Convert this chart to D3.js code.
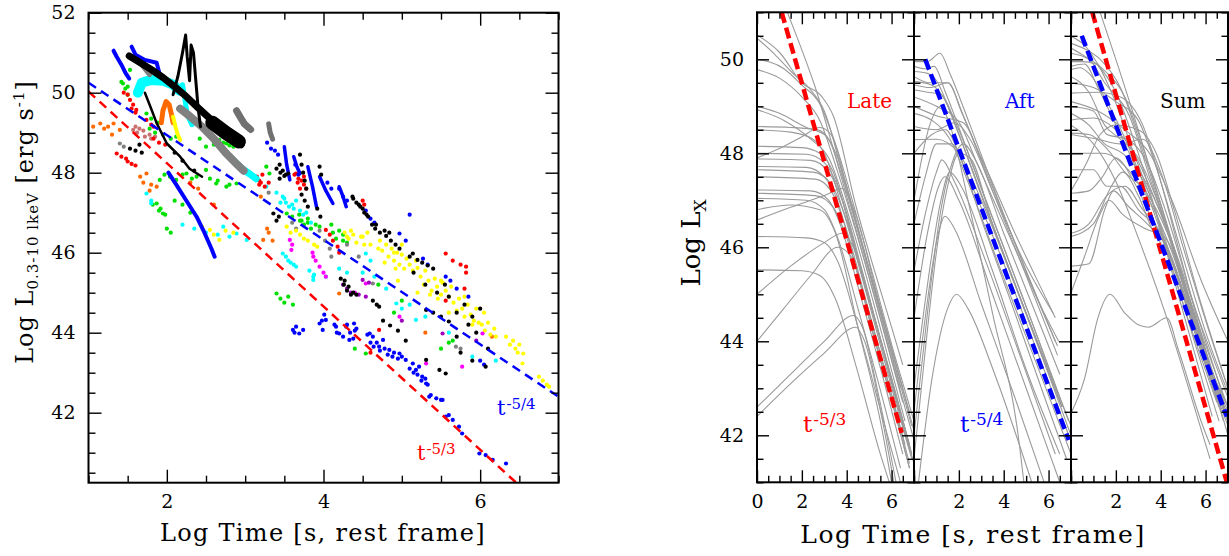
<!DOCTYPE html>
<meta charset="utf-8">
<script src="https://d3js.org/d3.v7.min.js"></script>
<style>
body { margin: 0; background: #fff; }
text { font-family: "DejaVu Serif", serif; fill: #000; }
</style>
<div id="chart"></div>
<script>
// ---------- left panel: light curves (log t, log L) ----------
// dense streaks
const blueTrackA  = [[1.32,51.05],[1.36,50.9],[1.42,50.7],[1.47,50.5],[1.52,50.35]];
const blueTrackB  = [[1.55,51.15],[1.6,50.95],[1.72,50.82],[1.87,50.75],[1.91,50.45]];
const blueDiag    = [[2.02,48.0],[2.12,47.7],[2.25,47.3],[2.38,46.9],[2.48,46.5],[2.57,46.1],[2.61,45.9]];
const blackMain   = [[1.52,50.92],[1.62,50.8],[1.8,50.58],[1.95,50.38],[2.1,50.15],[2.25,49.9],[2.4,49.62],[2.55,49.35],[2.7,49.05],[2.85,48.85],[2.95,48.7]];
const blackBlob   = [[2.58,49.25],[2.75,49.0],[2.92,48.78]];
const blackSpike  = [[2.08,49.95],[2.14,50.4],[2.2,51.0],[2.24,51.44],[2.26,50.9],[2.29,50.3],[2.31,51.19],[2.34,51.0],[2.37,50.3],[2.4,49.6],[2.43,49.15]];
const blackLeft   = [[1.72,50.0],[1.8,49.6],[1.87,49.24],[2.0,48.73],[2.17,48.4],[2.29,48.1],[2.45,47.9]];
const grayMain    = [[2.17,49.6],[2.3,49.4],[2.45,49.15],[2.6,48.85],[2.75,48.5],[2.9,48.2],[2.98,48.05]];
const grayTop     = [[1.66,50.75],[1.72,50.6],[1.78,50.45]];
const grayClusA   = [[2.89,49.55],[2.94,49.38],[2.99,49.22],[3.07,49.08]];
const grayClusB   = [[3.3,49.22],[3.32,49.0],[3.35,48.84]];
const cyanTop     = [[1.63,50.0],[1.68,50.25],[1.8,50.32],[1.95,50.3],[2.08,50.2],[2.16,50.05]];
const cyanMid     = [[2.2,50.2],[2.23,49.85],[2.26,49.45],[2.32,49.2]];
const cyanLow     = [[2.8,48.4],[2.88,48.25],[2.96,48.1],[3.05,47.98],[3.14,47.85]];
const orangeArc   = [[1.93,49.25],[1.95,49.55],[1.99,49.78],[2.03,49.7],[2.06,49.45],[2.08,49.25]];
const yellowTop   = [[2.08,49.4],[2.11,49.15],[2.14,48.95],[2.17,48.82]];
const blueStreaks = [[[3.62,48.4],[3.66,48.15],[3.7,47.98]],[[3.8,48.15],[3.86,47.65],[3.91,47.15]],
  [[3.5,48.65],[3.53,48.2],[3.57,47.82]],[[3.95,47.9],[4.03,47.55],[4.12,47.23]],[[4.2,47.65],[4.25,47.4],[4.29,47.15]]];

// scattered points
const bluePts = [[3.28,48.75],[3.33,48.6],[3.38,48.55],[3.42,48.45],[3.64,48.2],[3.68,47.95],[4.05,47.75],[4.1,47.6],[4.2,47.6],[4.25,47.4],[4.3,47.3],
  [4.54,47.05],[4.6,46.85],[4.65,46.75],[4.97,46.48],[5.1,46.95],[5.05,46.3],[5.27,45.85],[5.33,45.7],[5.56,45.4],[5.62,45.3],[5.7,45.1],[5.85,44.9],[6.0,43.3],[6.05,43.2],
  [3.61,44.07],[3.65,44.15],[3.69,43.98],[3.74,44.07],[3.95,44.23],[3.99,44.07],[4.03,44.32],[4.01,44.45],[4.16,44.15],[4.2,43.98],[4.25,43.9],[4.29,44.15],[4.33,43.82],
  [4.39,44.23],[4.4,44.05],[4.59,43.98],[4.63,43.9],[4.71,43.65],[4.76,43.82],[4.84,43.57],[4.88,43.4],[4.97,43.48],[5.05,43.32],[5.14,43.23],[5.18,43.07],[5.22,43.15],
  [5.26,42.9],[5.31,42.73],[5.35,42.4],[5.44,42.36],[5.5,42.32],[5.56,41.9],[5.65,41.82],[5.73,41.65],[5.77,41.48],[5.99,40.98],[6.07,40.94],[6.16,40.82],[6.33,40.73],
  [4.14,44.2],[4.17,44.0],[4.3,44.2],[4.34,44.0],[4.38,43.85],[4.42,44.1],[4.56,43.95],[4.6,43.75],[4.64,43.65],[4.68,43.75],[4.72,43.55],[4.78,43.6],[4.82,43.45],
  [4.9,43.5],[4.95,43.35],[5.0,43.4],[5.1,43.1],[5.15,43.0],[5.2,42.95],[5.25,42.8],[5.3,42.85],[5.33,42.7],[5.37,42.44],[5.52,42.32],[5.6,41.94],[3.63,44.0],[3.98,44.3]];
const blackPts = [[1.53,48.6],[1.6,48.55],[1.68,48.5],[1.65,48.7],[3.4,48.1],[3.45,48.0],[3.5,47.92],[3.55,47.98],[3.44,47.85],[3.72,47.45],[3.76,47.3],[3.8,47.15],
  [3.78,47.6],[3.95,48.15],[3.97,47.95],[4.37,47.4],[4.42,47.25],[4.47,47.15],[4.52,47.0],[4.57,46.9],[4.62,46.7],[4.66,46.6],[4.72,46.5],[4.8,46.42],[4.86,46.3],
  [4.92,46.2],[4.97,46.1],[5.14,45.98],[5.2,45.82],[5.26,45.75],[5.33,45.68],[5.4,45.6],[3.36,46.98],[3.4,46.8],[3.43,46.9],[4.22,45.35],[4.26,45.2],[4.3,45.05],
  [4.35,44.95],[4.63,44.8],[4.68,44.7],[4.71,44.65],[4.76,44.3],[4.85,44.18],[4.95,44.05],[5.05,43.8],[5.31,44.57],[5.4,44.5],[5.5,44.4],[5.6,44.28],[5.7,43.9],
  [5.48,43.07],[5.56,42.98],[6.07,43.15],[5.31,43.32],[5.8,44.7],[5.9,44.4],[6.0,44.6],[5.55,45.2],
  [3.44,48.2],[3.48,48.05],[3.52,47.95],[3.7,48.45],[3.72,48.2],[3.74,48.0],[3.76,47.8],[3.92,47.1],[3.96,46.9],[4.38,47.35],[4.45,47.2],[4.5,47.1],[4.55,46.95],
  [4.67,46.7],[4.78,46.55],[4.84,46.5],[4.27,45.3],[4.32,45.15],[4.38,45.0],[4.42,44.95],[5.1,45.9],[5.15,45.5],[5.3,45.2],[5.45,45.0],[5.6,44.9],[5.7,44.5],
  [5.85,44.2],[5.95,44.0],[6.1,43.6],[5.75,43.5],[5.9,43.3],[2.1,48.5],[2.2,48.3],[2.35,48.05]];
const grayPts = [[1.4,48.73],[1.45,48.65],[3.95,46.55],[4.02,46.3],[4.08,46.1],[4.1,45.9],[4.63,45.23],[5.69,43.65],[5.75,43.6],[4.3,46.2],[4.45,45.9],[3.3,47.5],[3.6,46.75],[3.65,46.6]];
const cyanPts = [[3.48,45.98],[3.55,45.8],[3.62,45.7],[3.87,45.4],[4.03,45.4],[3.4,47.5],[3.5,47.35],[3.6,47.2],[3.7,47.05],[3.45,47.25],[3.78,47.0],[3.27,47.65],
  [2.72,46.65],[2.89,46.48],[3.02,46.32],[1.74,47.48],[1.8,47.3],[4.54,45.98],[4.6,45.8],[4.93,44.73],[5.0,44.6],[5.18,44.32],[5.9,43.4],[3.87,45.32],[4.2,45.6],[4.3,45.5],[4.8,45.1],
  [3.48,47.4],[3.52,47.25],[3.56,47.15],[3.62,47.1],[3.65,47.3],[3.74,46.95],[3.84,46.75],[3.52,45.9],[3.58,45.75],[3.65,45.65],[3.82,45.55],[3.88,45.45],
  [2.2,46.7],[2.35,46.6],[2.5,46.5],[2.65,46.45],[2.8,46.4],[1.8,47.23],[4.5,45.5],[4.65,45.4],[5.1,44.7],[5.3,44.4],[5.6,44.0],[6.2,43.3]];
const greenPts = [[1.44,50.23],[1.47,50.1],[1.5,49.95],[1.53,50.57],[1.74,49.48],[1.8,49.35],[1.88,49.25],[1.91,47.82],[1.97,47.95],[2.04,47.9],[2.12,47.82],[2.2,47.95],
  [2.25,47.98],[2.32,47.85],[2.38,47.9],[2.5,48.07],[2.67,48.82],[2.72,48.75],[2.76,48.73],[2.85,48.65],[2.5,48.65],[2.63,47.73],[2.76,47.65],[2.89,47.73],[3.27,48.15],
  [3.31,47.98],[3.53,46.98],[3.6,46.9],[3.7,46.8],[3.8,46.75],[3.9,46.7],[3.95,46.65],[4.1,46.7],[4.2,46.55],[4.25,46.45],[1.87,47.23],[1.92,47.1],[1.95,46.98],
  [2.0,46.6],[2.05,46.5],[3.4,44.98],[3.45,44.85],[3.5,44.75],[3.55,44.9],[3.61,44.7],[4.54,43.48],[5.65,43.8],[5.6,43.75],[5.0,44.8],[4.7,45.2],
  [3.69,46.95],[3.72,46.8],[3.75,46.7],[3.8,46.85],[3.84,46.6],[4.12,46.5],[4.16,46.35],[4.25,46.3],[4.3,46.25],[1.78,49.1],[1.85,49.0],[1.95,48.95],
  [2.05,48.85],[2.12,48.9],[2.42,48.85],[2.6,48.7],[2.8,48.68],[2.55,47.85],[2.65,47.8],[2.8,47.7],[1.82,47.2],[1.9,47.05],[1.98,46.95],[2.1,47.3],
  [2.2,47.2],[2.3,47.0],[4.9,44.5],[5.5,43.6],[4.4,43.6],[1.42,50.27],[1.5,50.15]];
const redPts = [[1.36,48.48],[1.42,48.4],[1.48,48.35],[1.5,48.28],[1.55,48.22],[1.6,48.18],[1.53,49.82],[1.57,49.7],[1.61,49.57],[1.45,50.0],[1.74,49.32],[1.8,49.2],
  [1.83,49.15],[3.15,47.9],[3.18,47.8],[3.2,47.75],[3.25,47.65],[3.22,47.95],[3.65,47.98],[3.68,47.85],[3.72,47.8],[3.75,47.7],[3.78,47.6],[4.03,46.57],[4.08,46.45],
  [4.12,46.3],[4.18,46.15],[4.2,46.0],[4.5,47.3],[4.52,47.2],[5.56,45.98],[5.65,45.8],[5.75,45.7],[5.82,45.65],[5.82,45.5],[5.8,45.1],[5.56,44.8],[4.71,44.07],[4.6,43.5],
  [3.63,47.95],[3.67,47.75],[3.7,47.6],[3.75,47.9],[3.06,48.0],[3.12,47.85],[3.18,47.7],[3.3,47.75],[1.83,48.85],[1.9,48.75],[1.98,48.7],[1.5,49.95],[1.55,49.6],[1.6,49.5]];
const yellowPts = [[3.53,46.65],[3.58,46.5],[3.65,46.55],[3.7,46.45],[3.75,46.35],[3.8,46.3],[3.88,46.2],[3.92,46.15],[4.3,46.4],[4.35,46.55],[4.5,46.4],[4.6,46.2],
  [4.7,46.1],[4.9,46.0],[5.0,45.95],[4.95,45.3],[5.2,45.0],[5.3,45.55],[5.5,45.3],[5.6,44.5],[5.8,44.9],[5.9,44.2],[6.05,44.5],[6.2,43.9],[6.33,43.9],[6.38,43.7],
  [6.42,43.8],[6.45,43.6],[6.5,43.7],[6.55,43.48],[6.48,43.5],[6.54,43.23],[6.75,42.9],[6.8,42.8],[6.85,42.7],[6.88,42.65],[2.55,46.57],[2.6,46.45],[2.67,46.32],
  [4.27,46.5],[4.32,46.35],[4.38,46.45],[4.42,46.25],[4.48,46.4],[4.52,46.2],[4.56,46.5],[4.72,46.3],[4.75,46.05],[4.8,46.2],[4.83,45.9],[4.87,46.1],[4.9,45.8],
  [4.94,46.0],[4.97,45.7],[5.03,45.6],[5.06,45.85],[5.1,45.7],[5.14,45.55],[5.18,45.8],[5.2,45.62],[4.78,45.75],[4.92,45.6],[5.0,46.2],[5.24,45.4],[5.28,45.2],
  [5.34,45.3],[5.38,45.05],[5.42,45.35],[5.45,45.15],[5.5,44.95],[5.52,45.25],[5.56,45.05],[5.6,44.9],[5.63,45.15],[5.36,44.95],[5.46,44.85],[5.66,44.75],[5.7,44.55],
  [5.73,44.85],[5.77,44.6],[5.8,44.4],[5.84,44.7],[5.88,44.45],[5.92,44.3],[5.95,44.6],[5.98,44.25],[6.02,44.2],[6.06,44.05],[6.1,44.25],[6.13,43.95],[6.18,44.1],
  [2.45,46.65],[2.75,46.55],[2.85,46.5]];
const orangePts = [[1.06,49.15],[1.15,49.23],[1.2,49.1],[1.25,49.15],[1.32,49.23],[1.4,49.07],[1.3,48.95],[1.66,47.9],[1.7,47.75],[1.74,47.98],[1.8,47.7],[1.87,47.65],
  [1.78,47.55],[3.23,46.32],[3.3,46.5],[3.35,46.3],[3.28,46.6],[4.2,44.98],[5.3,44.0],[6.15,43.9],[3.2,47.4],[2.6,47.2],[2.3,47.75],[2.4,47.6]];
const magentaPts = [[3.57,46.32],[3.59,46.07],[3.87,45.9],[3.95,45.65],[4.03,45.4],[4.54,45.23],[4.97,44.4],[5.31,43.23],[5.77,43.15],[6.03,43.98],[4.4,45.0],
  [3.6,46.2],[3.86,46.0],[3.9,45.8],[4.0,45.5]];
const purplePts = [[4.5,45.32],[4.58,45.25],[5.52,43.98],[4.3,45.1],[5.0,44.3],[5.95,43.8],[4.25,45.2],[4.35,45.0],[4.45,44.95],[4.54,44.9]];
const rosyPts = [[1.57,49.07],[1.62,49.0],[1.65,49.1],[1.72,48.9],[1.78,48.95],[1.8,48.85],[1.85,48.9],[1.6,49.15],[1.7,49.05]];

// power-law guides
const fitBlueL = [[1,50.25],[7,42.4]];
const fitRedL  = [[1,50.03],[6.46,40.25]];

// ---------- right panels: model curves ----------
const lateCurves = [
  [[1.35,51],[2.0,50.2],[2.6,49.4],[3.4,48.1],[4.4,46.4],[5.6,44.3],[6.5,42.7]],
  [[0,50.52],[1,50.15],[2,49.5],[2.9,49.2],[3.4,48.8],[4.4,46.9],[6,44.3],[6.5,43.5]],
  [[0,50.45],[0.8,50.1],[1.6,49.7],[2.3,49.4],[3.0,48.9],[4.0,47.2],[5.5,44.6],[6.9,42.2]],
  [[0,50.0],[1.2,49.8],[2.0,49.45],[2.8,49.05],[3.5,48.2],[4.6,46.4],[6.2,43.6],[7,42.3]],
  [[0,49.78],[1.0,49.6],[2.0,49.2],[2.8,48.7],[3.6,47.6],[4.8,45.7],[6.3,43.1],[7,41.9]],
  [[0,49.0],[1.0,48.85],[2.2,48.55],[3.0,48.4],[3.6,47.9],[4.6,46.2],[6.2,43.5],[6.8,42.5]],
  [[0,48.93],[1.2,48.7],[2.4,48.3],[3.2,47.9],[4.2,46.5],[5.6,44.1],[6.6,42.3]],
  [[0,48.57],[1.5,48.55],[2.7,48.5],[3.2,48.3],[3.8,47.5],[5.0,45.5],[6.4,43.0]],
  [[0,48.5],[1.5,48.45],[2.5,48.3],[3.0,48.0],[3.7,47.0],[5.0,44.8],[6.3,42.5],[6.9,41.5]],
  [[0,47.9],[1.0,48.1],[2.0,48.35],[2.8,48.55],[3.3,48.4],[4.0,47.3],[5.2,45.2],[6.5,43.0]],
  [[0,48.15],[2.0,48.12],[2.8,48.0],[3.4,47.6],[4.4,45.9],[5.8,43.5],[6.8,41.7]],
  [[0,48.0],[2.2,47.98],[3.0,47.8],[3.6,47.3],[4.6,45.6],[6.0,43.2],[6.9,41.6]],
  [[0,47.88],[2.4,47.85],[3.2,47.6],[3.8,47.0],[4.8,45.3],[6.1,43.0],[6.8,41.8]],
  [[0,47.72],[2.2,47.7],[3.0,47.5],[3.5,47.1],[4.4,45.6],[5.7,43.4],[6.6,41.8]],
  [[0,47.65],[2.5,47.6],[3.3,47.35],[3.9,46.7],[5.0,44.9],[6.3,42.7],[6.9,41.6]],
  [[0,47.5],[2.6,47.45],[3.3,47.2],[3.9,46.5],[4.9,44.8],[6.2,42.5],[6.8,41.4]],
  [[0,47.22],[2.4,47.2],[3.2,47.0],[3.7,46.5],[4.6,45.0],[5.8,42.9],[6.5,41.6]],
  [[0,47.15],[2.6,47.1],[3.4,46.85],[4.0,46.2],[5.0,44.5],[6.2,42.4],[6.8,41.3]],
  [[0,47.04],[2.2,47.0],[3.0,46.8],[3.6,46.2],[4.5,44.7],[5.7,42.6],[6.4,41.3]],
  [[0,46.58],[1.5,46.85],[3.0,47.1],[3.8,47.25],[4.4,46.7],[5.4,44.9],[6.6,42.8],[7,42.1]],
  [[0,46.23],[2.2,46.2],[3.0,46.1],[3.6,45.7],[4.5,44.3],[5.7,42.2],[6.4,41.0]],
  [[0,45.52],[2.0,45.5],[2.8,45.4],[3.5,44.9],[4.4,43.5],[5.5,41.6],[5.9,41.0]],
  [[0,45.0],[1.5,45.6],[3.0,46.1],[3.8,46.3],[4.4,45.9],[5.4,44.2],[6.4,42.4],[7,41.4]],
  [[0,44.0],[1.2,44.7],[2.4,45.4],[3.6,46.0],[4.2,45.8],[5.2,44.1],[6.2,42.4],[6.8,41.3]],
  [[0,42.6],[1.5,43.3],[3.0,44.0],[4.3,44.55],[4.7,44.3],[5.4,42.9],[6.2,41.0]],
  [[0,42.4],[1.5,43.1],[3.0,43.75],[4.4,44.3],[4.8,44.0],[5.6,42.3],[6.1,41.0]],
  [[0,46.8],[1.5,46.9],[2.8,46.8],[3.5,46.3],[4.5,44.3],[5.5,42.3],[6.0,41.0]]
];
const aftCurves = [
  [[0,49.95],[0.6,49.95],[1.16,50.13],[1.6,49.7],[2.5,48.6],[4.0,46.7],[5.5,44.9],[6.4,43.9]],
  [[0,49.85],[0.5,49.8],[0.9,49.85],[1.4,49.3],[2.5,47.9],[4.0,46.0],[5.5,44.1],[6.9,42.3]],
  [[0,49.74],[0.6,49.7],[1.0,49.55],[1.6,48.9],[3.0,47.1],[4.5,45.2],[6.0,43.3],[7,42.0]],
  [[0,49.63],[0.7,49.5],[1.5,49.5],[2.2,48.8],[3.5,47.2],[5.0,45.4],[6.4,43.7]],
  [[0,49.53],[0.8,49.45],[1.3,49.2],[2.0,48.4],[3.5,46.5],[5.0,44.6],[6.6,42.6]],
  [[0,49.35],[0.6,49.3],[1.2,49.25],[1.9,48.6],[3.2,47.0],[4.8,45.0],[6.5,42.8]],
  [[0,49.2],[1.0,49.0],[1.98,48.68],[2.8,47.8],[4.2,46.3],[5.8,44.6],[6.45,44.0]],
  [[0,49.0],[1.0,48.8],[2.2,48.65],[3.0,47.9],[4.5,46.3],[6.0,44.8],[6.3,44.5]],
  [[0,48.85],[0.8,48.7],[1.6,48.3],[2.4,47.4],[3.8,45.6],[5.4,43.6],[7,41.6]],
  [[0,46.5],[0.5,47.5],[1.0,48.2],[1.68,48.2],[2.4,47.5],[3.8,45.9],[5.4,43.9],[6.9,42.0]],
  [[0,45.5],[0.5,46.7],[1.0,47.6],[1.24,47.86],[1.8,47.4],[3.2,45.7],[4.8,43.6],[6.3,41.6]],
  [[0,44.5],[0.6,46.3],[1.1,47.3],[1.38,47.5],[2.0,47.0],[3.5,45.0],[5.0,43.0],[6.5,41.0]],
  [[0,42.5],[0.5,44.5],[1.0,46.1],[1.38,46.66],[1.8,46.4],[3.0,44.8],[4.5,42.8],[5.8,41.0]],
  [[0.2,41],[0.8,43.2],[1.5,44.7],[1.9,45.0],[2.4,44.7],[3.6,43.3],[5.25,41]],
  [[0,41.5],[0.5,43.8],[1.0,45.9],[1.5,47.3],[2.0,48.0],[2.5,47.9],[3.5,46.5],[5.0,44.6],[6.6,42.6]],
  [[0,42.0],[0.6,44.6],[1.2,46.8],[1.7,47.8],[2.2,48.2],[2.8,47.8],[4.0,46.3],[5.5,44.5],[6.5,43.3]],
  [[0,43.0],[0.6,45.2],[1.2,47.0],[1.6,47.6],[2.1,47.3],[3.5,45.5],[5.0,43.4],[6.5,41.6]],
  [[0,48.57],[1.0,48.5],[1.8,48.65],[2.5,48.3],[3.5,47.2],[5.0,45.6],[6.2,44.6]],
  [[0,48.29],[1.0,48.3],[2.0,48.0],[3.0,47.0],[4.5,45.2],[6.0,43.4],[7,42.2]],
  [[0,49.46],[0.7,49.4],[1.53,49.5],[2.1,48.9],[3.4,47.4],[5.0,45.5],[6.3,44.0]],
  [[0,47.0],[0.7,48.6],[1.2,49.0],[1.6,48.6],[2.5,46.8],[3.5,44.6],[4.7,41.8],[4.9,41.0]],
  [[0,48.0],[0.8,48.4],[1.4,48.5],[2.0,48.0],[3.0,46.6],[4.5,44.6],[6.2,42.3],[6.8,41.5]]
];
const sumCurves = [
  [[1.3,51],[2.0,50.0],[3.0,48.5],[4.0,46.9],[5.3,44.9],[6.5,43.0],[7,42.3]],
  [[0,50.49],[0.6,50.3],[1.2,49.9],[2.0,49.3],[3.0,48.0],[4.0,46.4],[5.5,44.0],[6.6,42.3]],
  [[0,50.34],[0.7,50.2],[1.3,50.0],[2.2,49.4],[3.1,48.2],[4.2,46.5],[5.6,44.2],[6.8,42.3]],
  [[0,50.24],[0.5,50.1],[1.4,49.8],[2.4,49.2],[3.3,48.0],[4.4,46.3],[5.8,44.0],[7,42.0]],
  [[0,50.13],[0.8,50.0],[1.5,49.5],[2.6,48.8],[3.5,47.5],[4.6,45.9],[6.0,43.7],[7,42.3]],
  [[0,49.95],[0.5,49.95],[1.1,49.9],[1.8,49.3],[2.8,48.0],[3.9,46.6],[5.3,44.5],[6.6,42.6]],
  [[0,49.78],[0.4,49.82],[0.8,49.7],[1.6,49.1],[2.6,48.1],[3.8,46.6],[5.2,44.5],[6.5,42.7]],
  [[0,49.63],[0.8,49.3],[1.5,48.6],[2.2,48.3],[3.0,47.9],[4.0,46.8],[5.5,44.6],[7,42.6]],
  [[0,49.49],[1.0,49.4],[2.0,49.1],[3.0,48.7],[3.8,47.7],[4.8,46.1],[6.0,44.2],[7,42.9]],
  [[0,49.28],[1.2,49.3],[2.2,49.2],[3.2,48.6],[4.0,47.4],[5.0,45.6],[6.2,43.5],[7,42.4]],
  [[0,49.0],[1.0,48.9],[1.6,48.4],[2.5,48.3],[3.4,47.8],[4.2,46.8],[5.4,44.9],[6.8,42.8]],
  [[0,48.85],[0.8,48.6],[1.5,48.2],[2.3,48.0],[3.2,47.5],[4.2,46.5],[5.6,44.6],[7,42.8]],
  [[0,48.71],[1.0,48.75],[2.0,48.5],[2.7,48.1],[3.5,47.3],[4.4,46.2],[5.8,44.0],[7,42.5]],
  [[0,48.43],[0.8,48.4],[1.6,48.1],[2.4,47.6],[3.3,47.2],[4.3,46.3],[5.6,44.4],[6.9,42.5]],
  [[0,48.0],[1.4,48.0],[2.0,47.9],[2.8,47.5],[3.6,46.9],[4.5,45.9],[5.9,43.8],[7,42.6]],
  [[0,47.65],[1.0,47.65],[1.6,47.3],[2.2,47.3],[3.0,46.8],[4.0,46.3],[5.2,44.8],[6.6,42.7]],
  [[0,47.15],[0.8,47.2],[1.4,47.5],[2.0,47.9],[2.8,47.4],[3.6,46.6],[4.6,45.6],[6.0,43.5],[7,42.2]],
  [[0,46.3],[0.8,46.5],[1.6,47.1],[2.4,47.3],[3.2,46.8],[4.0,46.3],[5.0,45.0],[6.4,43.0]],
  [[0,46.23],[1.0,46.5],[1.8,47.3],[2.3,47.6],[3.0,47.1],[3.6,46.4],[4.5,45.7],[5.8,43.8],[7,42.3]],
  [[0,45.6],[0.8,45.65],[1.5,46.8],[1.9,47.2],[2.5,46.9],[3.4,46.5],[4.3,46.0],[5.5,44.3],[7,42.3]],
  [[0,45.03],[0.6,45.8],[1.2,46.6],[1.7,47.0],[2.3,46.7],[3.3,46.4],[4.2,46.2],[5.4,44.6],[6.8,42.6]],
  [[0,42.47],[0.6,43.2],[1.2,44.5],[1.74,45.0],[2.4,44.6],[3.0,44.35],[3.45,44.3],[4.27,44.5],[4.8,43.8],[5.8,42.3],[6.2,41.8]],
  [[0,49.85],[0.6,49.9],[1.2,49.4],[2.0,48.6],[2.8,47.8],[3.6,47.0],[4.6,45.3],[5.6,43.6],[6.3,42.4]],
  [[0,47.2],[0.7,47.8],[1.3,48.4],[2.0,48.6],[3.0,48.5],[3.8,48.0],[4.6,46.8],[5.8,44.8],[7,43.0]],
  [[0,48.6],[1.0,48.2],[2.0,47.4],[3.0,46.2],[4.2,44.6],[5.5,42.6],[6.2,41.5]],
  [[0,49.1],[1.2,48.9],[2.4,48.5],[3.5,48.0],[4.5,47.0],[5.8,45.3],[7,44.0]],
  [[0,48.4],[1.2,48.3],[2.2,48.2],[3.2,48.3],[4.0,47.6],[5.0,46.0],[6.3,44.0],[7,43.0]]
];
const lateFit   = [[1.1,51],[6.45,42.05]];
const aftFit    = [[0.5,50.0],[6.9,41.9]];
const sumFitRed = [[0.95,51],[6.95,41.0]];
const sumFitBlue= [[0.48,50.5],[6.95,42.4]];

// tick values
const xMajL = [2,4,6], yMajL = [42,44,46,48,50,52];
const xMajR = [0,2,4,6], yMajR = [42,44,46,48,50];
const halfSteps = (a,b) => d3.range(a, b + 0.001, 0.5);

// ---------- drawing ----------
const W = 1229, H = 556;
const svg = d3.select("#chart").append("svg").attr("width", W).attr("height", H);

function frame(g, x, y, o) {
  const [x0, x1] = x.range(), [y0, y1] = y.range();
  const minX = halfSteps(x.domain()[0], x.domain()[1]).filter(v => !o.xMaj.includes(v));
  const minY = halfSteps(Math.ceil(y.domain()[0]*2)/2, y.domain()[1]).filter(v => !o.yMaj.includes(v));
  const tidy = s => { s.select(".domain").remove(); s.selectAll("line").attr("stroke", "#000").attr("stroke-width", 1.4);
    s.selectAll("text").attr("font-size", o.fs).attr("font-family", "DejaVu Serif").attr("fill", "#000"); };
  const fmt = d => (o.xLab.includes(d) ? d : "");
  g.append("g").attr("transform", `translate(0,${y0})`).call(d3.axisBottom(x).tickValues(o.xMaj).tickSize(-o.big).tickPadding(12).tickFormat(fmt)).call(tidy);
  g.append("g").attr("transform", `translate(0,${y0})`).call(d3.axisBottom(x).tickValues(minX).tickSize(-o.small).tickFormat("")).call(tidy);
  g.append("g").attr("transform", `translate(0,${y1})`).call(d3.axisTop(x).tickValues(o.xMaj).tickSize(-o.big).tickFormat("")).call(tidy);
  g.append("g").attr("transform", `translate(0,${y1})`).call(d3.axisTop(x).tickValues(minX).tickSize(-o.small).tickFormat("")).call(tidy);
  g.append("g").attr("transform", `translate(${x0},0)`).call(d3.axisLeft(y).tickValues(o.yMaj).tickSize(-o.big).tickPadding(13).tickFormat(o.yLab ? d3.format("d") : "")).call(tidy);
  g.append("g").attr("transform", `translate(${x0},0)`).call(d3.axisLeft(y).tickValues(minY).tickSize(-o.small).tickFormat("")).call(tidy);
  g.append("g").attr("transform", `translate(${x1},0)`).call(d3.axisRight(y).tickValues(o.yMaj).tickSize(-o.big).tickFormat("")).call(tidy);
  g.append("g").attr("transform", `translate(${x1},0)`).call(d3.axisRight(y).tickValues(minY).tickSize(-o.small).tickFormat("")).call(tidy);
  g.append("rect").attr("x", x0).attr("y", y1).attr("width", x1 - x0).attr("height", y0 - y1)
    .attr("fill", "none").attr("stroke", "#000").attr("stroke-width", 2);
}

function clipFor(id, x, y) {
  const [x0, x1] = x.range(), [y0, y1] = y.range();
  svg.append("clipPath").attr("id", id).append("rect").attr("x", x0).attr("y", y1).attr("width", x1 - x0).attr("height", y0 - y1);
  return svg.append("g").attr("clip-path", `url(#${id})`);
}

// ----- left panel -----
const xL = d3.scaleLinear().domain([1, 7]).range([88.5, 558.5]);
const yL = d3.scaleLinear().domain([40.25, 52]).range([482.7, 12.7]);
const gL = clipFor("clipL", xL, yL);
const lineL = d3.line().x(d => xL(d[0])).y(d => yL(d[1]));

function track(pts, color, w) {
  gL.append("path").attr("d", lineL(pts)).attr("fill", "none").attr("stroke", color)
    .attr("stroke-width", w).attr("stroke-linecap", "round").attr("stroke-linejoin", "round");
}
function dots(pts, color) {
  gL.append("g").selectAll("circle").data(pts).join("circle")
    .attr("cx", d => xL(d[0])).attr("cy", d => yL(d[1])).attr("r", 2.1).attr("fill", color);
}

dots(orangePts, "#ff6a00");
dots(rosyPts, "#c87070");
dots(greenPts, "#00e000");
dots(cyanPts, "#00ffff");
dots(grayPts, "#808080");
dots(yellowPts, "#ffff00");
dots(redPts, "#ff0000");
dots(magentaPts, "#ff00ff");
dots(purplePts, "#a000c0");
track(cyanTop, "#00ffff", 10);
track(cyanMid, "#00ffff", 5);
track(cyanLow, "#00ffff", 7);
track(grayMain, "#808080", 8);
track(grayTop, "#808080", 5);
track(grayClusA, "#707070", 7);
track(grayClusB, "#707070", 5);
track(blackLeft, "#000", 2.5);
track(orangeArc, "#ff6a00", 5);
track(yellowTop, "#ffff00", 4);
track(blueDiag, "#0000ff", 4);
track(blueTrackA, "#0000ff", 4);
track(blueTrackB, "#0000ff", 4);
blueStreaks.forEach(s => track(s, "#0000ff", 3.5));
dots(bluePts, "#0000ff");
dots(blackPts, "#000");
track(blackMain, "#000", 7);
track(blackBlob, "#000", 14);
track(blackSpike, "#000", 3);

gL.append("path").attr("d", lineL(fitBlueL)).attr("stroke", "#0000ff").attr("stroke-width", 2.5).attr("stroke-dasharray", "9,6").attr("fill", "none");
gL.append("path").attr("d", lineL(fitRedL)).attr("stroke", "#ff0000").attr("stroke-width", 2.5).attr("stroke-dasharray", "9,6").attr("fill", "none");

frame(svg.append("g"), xL, yL, {xMaj: xMajL, yMaj: yMajL, xLab: xMajL, yLab: true, big: 13, small: 7, fs: 19});

function powerLabel(x, y, exp, color, fs, sfs, raise) {
  const t = svg.append("text").attr("x", x).attr("y", y).style("fill", color).attr("font-size", fs);
  t.append("tspan").text("t");
  t.append("tspan").attr("font-size", sfs).attr("dy", -raise).attr("dx", 1).text(exp);
}
powerLabel(497, 415, "-5/4", "#0000ff", 21, 15, 6);
powerLabel(417, 460, "-5/3", "#ff0000", 21, 15, 6);

svg.append("text").attr("x", 323).attr("y", 541).attr("text-anchor", "middle").attr("font-size", 24)
  .attr("letter-spacing", 1.3).text("Log Time [s, rest frame]");
const tyL = svg.append("text").attr("transform", "translate(33,222) rotate(-90)").attr("text-anchor", "middle")
  .attr("font-size", 24).attr("letter-spacing", 1);
tyL.append("tspan").text("Log L");
tyL.append("tspan").attr("font-size", 15).attr("dy", 5).text("0.3-10 lkeV");
tyL.append("tspan").attr("dy", -5).text(" [erg s");
tyL.append("tspan").attr("font-size", 15).attr("dy", -9).text("-1");
tyL.append("tspan").attr("dy", 9).text("]");

// ----- right panels -----
const yR = d3.scaleLinear().domain([41, 51]).range([482.3, 12.3]);
const panels = [
  {id: "late", x0: 757, curves: lateCurves, fits: [[lateFit, "#ff0000"]], name: "Late", nameColor: "#ff0000", nameX: 847,
   pl: {x: 803, exp: "-5/3", color: "#ff0000"}},
  {id: "aft", x0: 914, curves: aftCurves, fits: [[aftFit, "#0000ff"]], name: "Aft", nameColor: "#0000ff", nameX: 1005,
   pl: {x: 960, exp: "-5/4", color: "#0000ff"}},
  {id: "sum", x0: 1071, curves: sumCurves, fits: [[sumFitRed, "#ff0000"], [sumFitBlue, "#0000ff"]], name: "Sum", nameColor: "#000", nameX: 1160}
];
panels.forEach((p, i) => {
  const x = d3.scaleLinear().domain([0, 7]).range([p.x0, p.x0 + 157]);
  const g = clipFor("clip_" + p.id, x, yR);
  const curve = d3.line().x(d => x(d[0])).y(d => yR(d[1])).curve(d3.curveMonotoneX);
  const straight = d3.line().x(d => x(d[0])).y(d => yR(d[1]));
  g.selectAll("path.c").data(p.curves).join("path").attr("class", "c").attr("d", curve)
    .attr("fill", "none").attr("stroke", "#9a9a9a").attr("stroke-width", 1.1);
  p.fits.forEach(([pts, col]) => g.append("path").attr("d", straight(pts)).attr("fill", "none")
    .attr("stroke", col).attr("stroke-width", 4.5).attr("stroke-dasharray", "11,5"));
  frame(svg.append("g"), x, yR, {xMaj: xMajR, yMaj: yMajR, xLab: i === 0 ? xMajR : [2,4,6], yLab: i === 0, big: 12, small: 6.5, fs: 19});
  svg.append("text").attr("x", p.nameX).attr("y", 108).attr("font-size", 20).style("fill", p.nameColor).text(p.name);
  if (p.pl) powerLabel(p.pl.x, 432, p.pl.exp, p.pl.color, 23, 17, 7);
});

svg.append("text").attr("x", 973).attr("y", 543).attr("text-anchor", "middle").attr("font-size", 25)
  .attr("letter-spacing", 1.6).text("Log Time [s, rest frame]");
const tyR = svg.append("text").attr("transform", "translate(700,243) rotate(-90)").attr("text-anchor", "middle").attr("font-size", 26);
tyR.append("tspan").text("Log L");
tyR.append("tspan").attr("font-size", 17).attr("dy", 6).text("X");
</script>
